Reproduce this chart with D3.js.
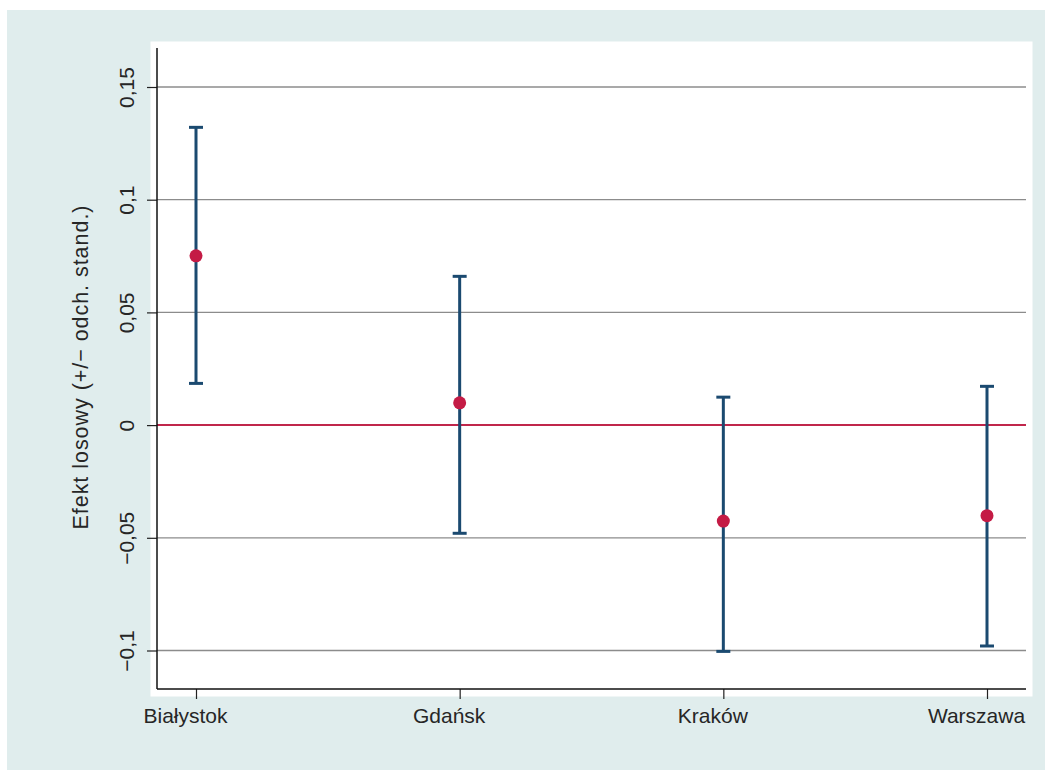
<!DOCTYPE html>
<html>
<head>
<meta charset="utf-8">
<script src="https://cdn.jsdelivr.net/npm/d3@7"></script>
<style>
  html, body { margin: 0; padding: 0; background: #ffffff; }
  svg { display: block; }
</style>
</head>
<body>
<svg id="chart" width="1052" height="771"></svg>
<script>
// ---- data ----
const categories = ["Białystok", "Gdańsk", "Kraków", "Warszawa"];
const effects = [0.0751, 0.0099, -0.0426, -0.0402];
const upper = [0.1321, 0.0660, 0.0124, 0.0172];
const lower = [0.0185, -0.0480, -0.1004, -0.0980];
const yTicks = [-0.1, -0.05, 0, 0.05, 0.1, 0.15];
const yTitle = "Efekt losowy (+/\u2212 odch. stand.)";

// ---- layout ----
const svg = d3.select("#chart");
const plotL = 157, plotR = 1026, plotT = 48, plotB = 689;
const font = "'Liberation Sans', Arial, sans-serif";
const textCol = "#262626";

const x = d3.scaleLinear().domain([0, categories.length - 1]).range([196, 987]);
const y = d3.scaleLinear().domain([-0.1, 0.15]).range([650.5, 87]);

const fmt = v => (v < 0 ? "\u2212" : "") + String(Math.abs(v)).replace(".", ",");

// outer background
svg.append("rect").attr("x", 7).attr("y", 10).attr("width", 1038).attr("height", 760)
  .attr("fill", "#e0eded");
// inner white region
svg.append("rect").attr("x", 150.5).attr("y", 41.5).attr("width", 882).attr("height", 655)
  .attr("fill", "#ffffff");

// grid lines
svg.append("g").selectAll("line").data(yTicks.filter(v => v !== 0)).enter().append("line")
  .attr("x1", plotL).attr("x2", plotR)
  .attr("y1", d => y(d)).attr("y2", d => y(d))
  .attr("stroke", "#8c8c8c").attr("stroke-width", 1.3);

// zero line
svg.append("line").attr("x1", plotL).attr("x2", plotR)
  .attr("y1", y(0)).attr("y2", y(0))
  .attr("stroke", "#c0264b").attr("stroke-width", 2);

// y axis
const yAxis = d3.axisLeft(y).tickValues(yTicks).tickSize(10).tickFormat(fmt);
const yg = svg.append("g").attr("transform", `translate(${plotL},0)`).call(yAxis);
yg.select(".domain").remove();
yg.selectAll(".tick line").attr("stroke", "#222").attr("stroke-width", 1.2);
yg.selectAll(".tick text")
  .attr("font-family", font).attr("font-size", 21).attr("fill", textCol)
  .attr("text-anchor", "middle").attr("dy", null).attr("x", null)
  .attr("transform", "translate(-23,0) rotate(-90)");
svg.append("line").attr("x1", plotL).attr("x2", plotL).attr("y1", plotT).attr("y2", plotB)
  .attr("stroke", "#111").attr("stroke-width", 1.5);

// x axis
const xAxis = d3.axisBottom(x).tickValues(d3.range(categories.length)).tickSize(10)
  .tickFormat(i => categories[i]);
const xg = svg.append("g").attr("transform", `translate(0,${plotB})`).call(xAxis);
xg.select(".domain").remove();
xg.selectAll(".tick line").attr("stroke", "#222").attr("stroke-width", 1.2);
xg.selectAll(".tick text")
  .attr("font-family", font).attr("font-size", 21).attr("fill", textCol)
  .attr("y", 34).attr("dy", null).attr("x", -11);
svg.append("line").attr("x1", plotL).attr("x2", plotR).attr("y1", plotB).attr("y2", plotB)
  .attr("stroke", "#111").attr("stroke-width", 1.5);

// axis title
svg.append("text")
  .attr("transform", `translate(88,${(plotT + plotB) / 2 - 1}) rotate(-90)`)
  .attr("text-anchor", "middle")
  .attr("font-family", font).attr("font-size", 21.5).attr("fill", textCol)
  .attr("textLength", 324).attr("lengthAdjust", "spacing")
  .text(yTitle);

// error bars
const barCol = "#1b4a70";
const capW = 7;
const eb = svg.append("g");
categories.forEach((c, i) => {
  eb.append("line").attr("x1", x(i)).attr("x2", x(i))
    .attr("y1", y(upper[i])).attr("y2", y(lower[i]))
    .attr("stroke", barCol).attr("stroke-width", 3);
  [upper[i], lower[i]].forEach(v => {
    eb.append("line").attr("x1", x(i) - capW).attr("x2", x(i) + capW)
      .attr("y1", y(v)).attr("y2", y(v))
      .attr("stroke", barCol).attr("stroke-width", 3);
  });
});

// points
svg.append("g").selectAll("circle").data(effects).enter().append("circle")
  .attr("cx", (d, i) => x(i)).attr("cy", d => y(d)).attr("r", 6.5)
  .attr("fill", "#c41b45");
</script>
</body>
</html>
